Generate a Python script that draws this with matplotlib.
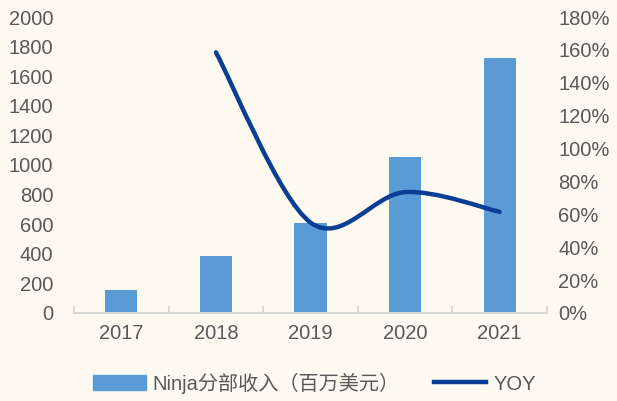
import numpy as np
import matplotlib
matplotlib.use('Agg')
import matplotlib.pyplot as plt
from matplotlib.path import Path
from matplotlib.patches import PathPatch, Patch
from matplotlib.lines import Line2D

plt.rcParams['font.family'] = ['Liberation Sans', 'Noto Sans CJK SC', 'DejaVu Sans']

# data
years = ['2017', '2018', '2019', '2020', '2021']
revenue = [155, 385, 605, 1055, 1720]     # Ninja segment revenue, USD mn
yoy_years = ['2018', '2019', '2020', '2021']
yoy = [158.5, 55, 73.5, 61.5]             # %

bg = '#FEFAF1'
bar_col = '#5B9BD5'
line_col = '#0A3D94'
txt_col = '#595959'
fs = 14.5

fig = plt.figure(figsize=(6.17, 4.01), dpi=100, facecolor=bg)
ax = fig.add_axes([0.12, 0.2195, 0.7665, 0.7381])
ax.set_facecolor(bg)
x = np.arange(len(years))
ax.bar(x, revenue, width=0.34, color=bar_col, zorder=2)
ax.set_xlim(-0.5, len(years) - 0.5)
ax.set_ylim(0, 2000)
ax.set_yticks(np.arange(0, 2001, 200))
ax.set_xticks(x)
ax.set_xticklabels(years)
for s in ['top', 'right', 'left']:
    ax.spines[s].set_visible(False)
ax.spines['bottom'].set_color('#D9D9D9')
ax.spines['bottom'].set_linewidth(1.5)
ax.tick_params(axis='y', length=0, labelsize=fs, colors=txt_col, pad=15)
ax.tick_params(axis='x', length=0, labelsize=fs, colors=txt_col, pad=8)
# minor ticks between categories on the axis line
ax.set_xticks(np.arange(-0.5, len(years), 1.0), minor=True)
ax.tick_params(axis='x', which='minor', direction='in', length=5, width=1.5, color='#D9D9D9')

ax2 = ax.twinx()
ax2.set_ylim(0, 180)
ax2.set_yticks(np.arange(0, 181, 20))
ax2.set_yticklabels([f'{v}%' for v in range(0, 181, 20)])
for s in ax2.spines.values():
    s.set_visible(False)
ax2.tick_params(axis='y', length=0, labelsize=fs, colors=txt_col, pad=8)

# smooth line (Excel-style bezier through the points)
px = np.array([years.index(y) for y in yoy_years], dtype=float)
py = np.array(yoy, dtype=float)
pts = np.column_stack([px, py])
verts = [pts[0]]
codes = [Path.MOVETO]
n = len(pts)
for i in range(n - 1):
    p0 = pts[i - 1] if i > 0 else pts[i]
    p1 = pts[i]
    p2 = pts[i + 1]
    p3 = pts[i + 2] if i + 2 < n else pts[i + 1]
    verts += [p1 + (p2 - p0) / 6, p2 - (p3 - p1) / 6, p2]
    codes += [Path.CURVE4] * 3
ax2.add_patch(PathPatch(Path(verts, codes), fill=False, edgecolor=line_col,
                        lw=3.2, capstyle='round', zorder=3))

handles = [Patch(color=bar_col), Line2D([0], [0], color=line_col, lw=3.2)]
fig.legend(handles, ['Ninja分部收入（百万美元）', 'YOY'], loc='center',
           bbox_to_anchor=(0.51, 0.045), ncol=2, frameon=False,
           fontsize=fs, labelcolor=txt_col, handlelength=2.6,
           handleheight=0.75, columnspacing=1.7, handletextpad=0.35)

fig.savefig('out.png', dpi=100, facecolor=bg)
